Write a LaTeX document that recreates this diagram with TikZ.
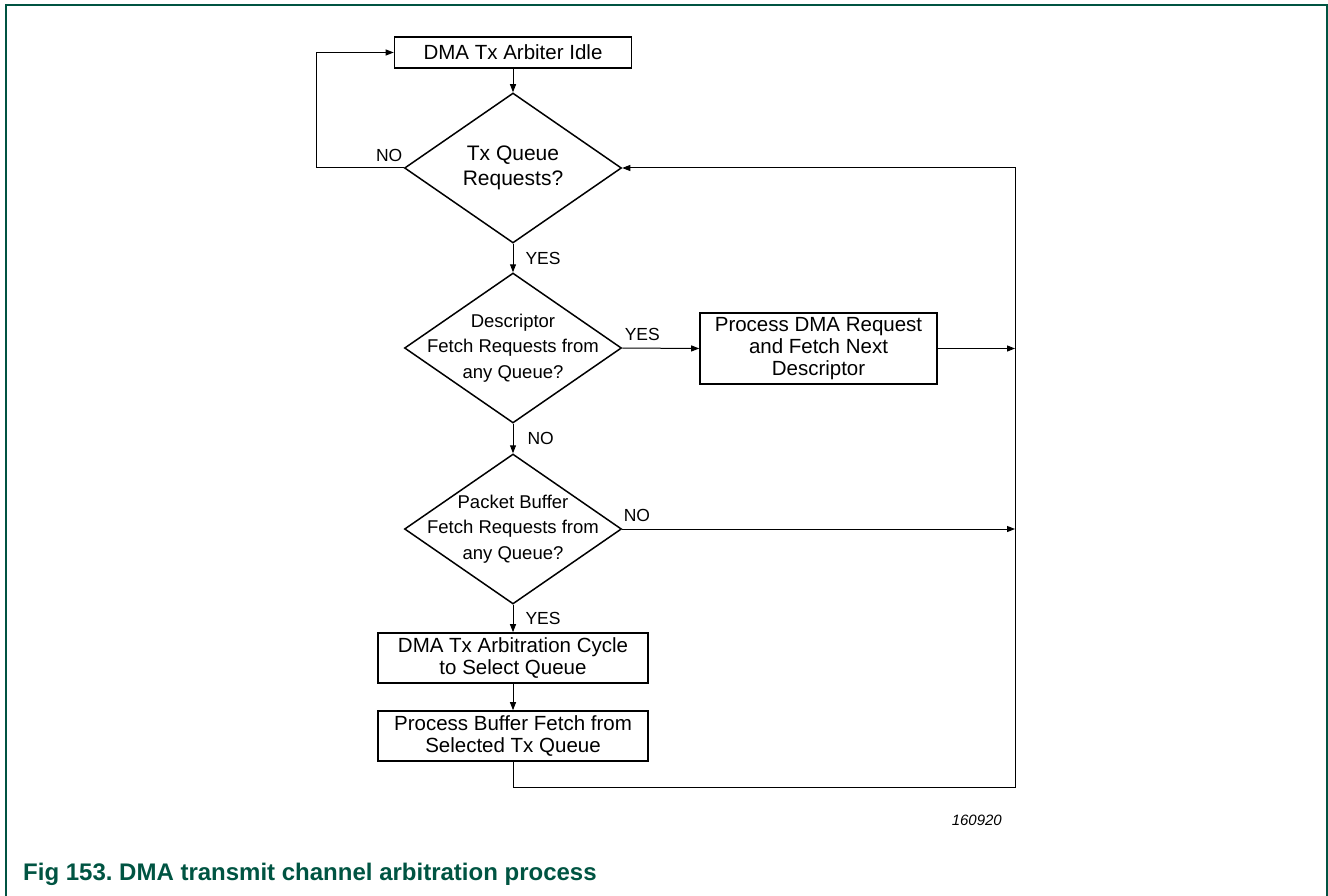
\documentclass[tikz,border=0pt]{standalone}
\usepackage{fontspec}
\setmainfont{Liberation Sans}
\usetikzlibrary{arrows.meta, calc, positioning, shapes.geometric}
\definecolor{figgreen}{RGB}{0,84,66}
\frenchspacing

\begin{document}
\begin{tikzpicture}[
        x=1pt,
        y=-1pt,
        box/.style={draw, line width=1.6pt, minimum width=270pt, minimum height=50pt,
            inner sep=0pt, align=center, font=\fontsize{20.5}{22}\selectfont},
        decision/.style={draw, diamond, line width=1.5pt, minimum width=217pt,
            minimum height=150pt, inner sep=0pt},
        qtext/.style={align=center, inner sep=0pt, font=\fontsize{21}{25}\selectfont},
        dtext/.style={align=center, inner sep=0pt, font=\fontsize{18.5}{25.5}\selectfont},
        lbl/.style={inner sep=0pt, font=\fontsize{17.5}{20}\selectfont},
        flow/.style={line width=1pt, -{Triangle[length=8pt, width=6pt]}},
    ]

    % page and frame
    \useasboundingbox (0,0) rectangle (1328,896);
    \draw[figgreen, line width=2pt] (6,896) -- (6,5) -- (1327,5) -- (1327,896);

    % return rail on the right
    \def\railx{1015}
    \coordinate (rail) at (\railx,787);

    \node[box, minimum width=237pt, minimum height=31pt] (idle) at (513,52.5) {DMA Tx Arbiter Idle};
    \node[decision, label={[qtext]center:{Tx Queue\\Requests?}}] (txq) at (513,168) {};
    \node[decision, label={[dtext]center:{Descriptor\\Fetch Requests from\\any Queue?}}] (descq) at (513,348) {};
    \node[box, minimum width=237pt, minimum height=71pt] (procdma) at (818.5,348.5)
        {Process DMA Request\\and Fetch Next\\Descriptor};
    \node[decision, label={[dtext]center:{Packet Buffer\\Fetch Requests from\\any Queue?}}] (pktq) at (513,529) {};
    \node[box] (arbcyc) at (513,658) {DMA Tx Arbitration Cycle\\to Select Queue};
    \node[box] (buffetch) at (513,736) {Process Buffer Fetch from\\Selected Tx Queue};

    % connectors
    \draw[flow] (idle.south) -- (txq.north);
    \draw[flow] (txq.west) -- node[lbl, pos=0, above left=6pt and 1pt] {NO} ++(-87,0) |- (idle.west);
    \draw[flow] (txq.south) -- node[lbl, right=12pt] {YES} (descq.north);
    \draw[flow] (descq.east) -- node[lbl, pos=0, above right=7pt and 2pt] {YES} (procdma.west);
    \draw[flow] (procdma.east) -- (procdma.east -| rail);
    \draw[flow] (descq.south) -- node[lbl, right=14pt] {NO} (pktq.north);
    \draw[flow] (pktq.east) -- node[lbl, pos=0, above right=7pt and 1pt] {NO} (pktq.east -| rail);
    \draw[flow] (pktq.south) -- node[lbl, right=12pt] {YES} (arbcyc.north);
    \draw[flow] (arbcyc.south) -- (buffetch.north);
    \draw[flow] (buffetch.south) |- (rail) |- (txq.east);

    % figure number and caption
    \node[anchor=base east, inner sep=0pt, font=\fontsize{15}{18}\selectfont\itshape] (figno)
        at (1002,825) {160920};
    \node[anchor=base west, inner sep=0pt, text=figgreen, font=\fontsize{24}{27}\selectfont\bfseries]
        (caption) at (23,880) {Fig 153. DMA transmit channel arbitration process};

\end{tikzpicture}
\end{document}
